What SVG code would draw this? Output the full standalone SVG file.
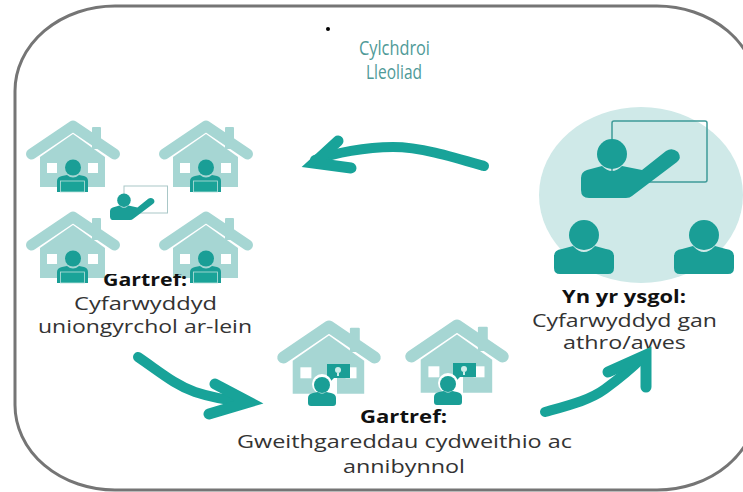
<svg xmlns="http://www.w3.org/2000/svg" width="743" height="492" viewBox="0 0 743 492">
<style>
text{font-family:"Open Sans","Noto Sans","Liberation Sans",sans-serif;fill:#333;font-size:18px}
.b{font-weight:700;fill:#111;font-size:17px}
.t{fill:#4f9a98;font-size:20px}
.roof{fill:none;stroke:#a6d6d3;stroke-width:11;stroke-linecap:round;stroke-linejoin:round}
.hf{fill:#a6d6d3}
.w{fill:#fff}
.p{fill:#1a9e96}
.ar{fill:none;stroke:#18a399;stroke-width:10;stroke-linecap:round}
.ah{fill:none;stroke:#18a399;stroke-width:11;stroke-linecap:round;stroke-linejoin:miter;stroke-miterlimit:10}
</style>
<defs>
<clipPath id="cut"><rect x="90" y="274" width="110" height="20"/></clipPath>
<g id="house">
<path class="roof" d="M31.500 154 L73 126 L114.500 154"/>
<rect class="hf" x="92" y="127" width="9" height="22" rx="1"/>
<path class="hf" d="M73 134 L105 157 V187 H40 V157Z"/>
<rect class="w" x="47" y="163" width="10" height="10"/>
<rect class="w" x="88" y="163" width="10" height="10"/>
</g>
<g id="pc">
<circle class="p" cx="73" cy="167.500" r="8"/>
<path class="p" d="M57 181 Q57 177 62 176 L67 175 Q73 180 79 175 L84 176 Q88 177 88 181 V192 H57Z"/>
<rect x="60.500" y="181" width="24" height="11" fill="#1aa398" stroke="#b9e0dd" stroke-width=".8"/>
</g>
<g id="idea">
<path class="w" d="M325 376 L337 376 V396 H330 L325 388Z"/>
<rect class="p" x="327" y="364" width="23" height="14"/>
<path class="p" d="M329 376 L329 383 L335 377Z"/>
<circle cx="338" cy="370" r="3" fill="#cdeeea"/>
<rect x="337" y="373" width="2" height="3" fill="#cdeeea"/>
<circle cx="322" cy="384" r="10" class="w"/>
<circle class="p" cx="322" cy="385" r="8"/>
<path class="p" d="M308 398 Q308 394 313 393 L318 392 Q322 395 326 392 L331 393 Q336 394 336 398 V403 Q336 406 333 406 H311 Q308 406 308 403Z"/>
</g>
<g id="student">
<circle class="p" cx="584" cy="235" r="15"/>
<path class="p" d="M554 256 Q554 250 562 249 L573 246 Q584 258 595 246 L606 249 Q614 250 614 256 V268 Q614 274 608 274 H560 Q554 274 554 268Z"/>
</g>
<g id="teacher">
<circle class="p" cx="612" cy="154" r="15"/>
<path class="p" d="M581 178 Q581 172 587 170 L602 166 Q612 176 622 166 L642 170 L666 151 Q672 147 678 152 Q682 158 677 162 L632 196 Q630 198 626 198 H589 Q581 198 581 190Z"/>
</g>
</defs>
<rect id="frame" x="15" y="6" width="742" height="484" rx="100" ry="85" fill="#fff" stroke="#757575" stroke-width="3"/>
<g id="title">
<circle cx="328" cy="29" r="2" fill="#000"/>
<text class="t" x="359" y="55" textLength="71" lengthAdjust="spacingAndGlyphs">Cylchdroi</text>
<text class="t" x="366" y="79" textLength="56" lengthAdjust="spacingAndGlyphs">Lleoliad</text>
</g>
<g id="node-online">
<use href="#house"/>
<use href="#pc"/>
<g transform="translate(133 0)"><use href="#house"/><use href="#pc"/></g>
<g transform="translate(0 91)"><use href="#house"/><use href="#pc"/></g>
<g transform="translate(133 91)"><use href="#house"/><use href="#pc"/></g>
<rect x="124" y="186" width="43.500" height="27" fill="#fff" stroke="#a9c7c7" stroke-width="1"/>
<use href="#teacher" transform="translate(-151.45 130.9) scale(.45)"/>
<text class="b" x="103" y="285.500" textLength="84" lengthAdjust="spacingAndGlyphs" clip-path="url(#cut)">Gartref:</text>
<text x="74" y="310" textLength="143" lengthAdjust="spacingAndGlyphs">Cyfarwyddyd</text>
<text x="38" y="333" textLength="214" lengthAdjust="spacingAndGlyphs">uniongyrchol ar-lein</text>
</g>
<g id="node-home">
<g transform="translate(248.700 188) scale(1.100)"><use href="#house"/></g>
<use href="#idea"/>
<g transform="translate(376.700 187) scale(1.100)"><use href="#house"/></g>
<use href="#idea" transform="translate(126 -1)"/>
<text class="b" x="360" y="423" textLength="87" lengthAdjust="spacingAndGlyphs">Gartref:</text>
<text x="237" y="448" textLength="335" lengthAdjust="spacingAndGlyphs">Gweithgareddau cydweithio ac</text>
<text x="343" y="473" textLength="122" lengthAdjust="spacingAndGlyphs">annibynnol</text>
</g>
<g id="node-school">
<ellipse cx="641" cy="195" rx="102" ry="88" fill="#cfe9e8"/>
<rect x="612" y="121" width="95" height="61" rx="2" fill="none" stroke="#3f9a98" stroke-width="1.500"/>
<use href="#teacher"/>
<use href="#student"/>
<use href="#student" transform="translate(120 0)"/>
<text class="b" x="562" y="303" textLength="124" lengthAdjust="spacingAndGlyphs">Yn yr ysgol:</text>
<text x="532" y="327" textLength="185" lengthAdjust="spacingAndGlyphs">Cyfarwyddyd gan</text>
<text x="563" y="349" textLength="123" lengthAdjust="spacingAndGlyphs">athro/awes</text>
</g>
<g id="connectors">
<path class="ar" d="M484 166 C450 156 420 147 393 147 C365 147 335 153 315 160"/>
<path class="ah" d="M338 141 L314 163 L351 168"/>
<path class="ar" d="M138 357 C160 372 175 385 195 392 C210 397 225 400 245 402"/>
<path class="ah" d="M215 384 L249 402 L209 414"/>
<path class="ar" d="M545 412 C570 405 590 400 605 389 C620 378 630 370 642 358"/>
<path class="ah" d="M608 372 L646 355 L646 387"/>
</g>
</svg>
